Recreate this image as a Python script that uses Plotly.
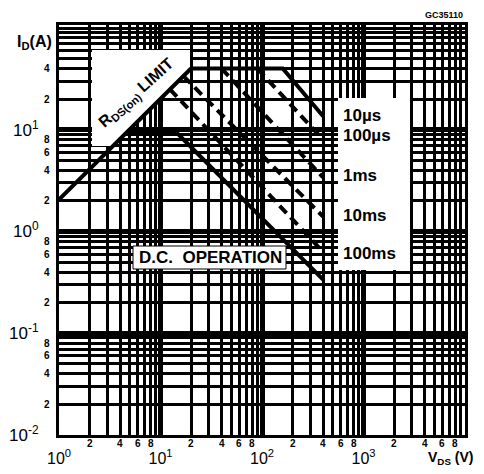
import numpy as np
import plotly.graph_objects as go

# ---- data (V_DS in volts, I_D in amperes) ----
rds_v = [1, 20]
rds_i = [2.06, 40]
us10_v = [20, 160, 400]
us10_i = [40, 40, 13.6]
us100_v = [90, 400]
us100_i = [40, 8.0]
ms1_v = [40, 400]
ms1_i = [40, 3.4]
ms10_v = [16.8, 400]
ms10_i = [33.7, 1.40]
ms100_v = [12.4, 400]
ms100_i = [25.0, 0.63]
dc_v = [4.7, 14.4, 400]
dc_i = [9.4, 9.4, 0.336]

x_decades = [1, 10, 100, 1000]
x_dec_text = ["10<sup>0</sup>", "10<sup>1</sup>", "10<sup>2</sup>", "10<sup>3</sup>"]
y_decades = [0.01, 0.1, 1, 10]
y_dec_text = ["10<sup>-2</sup>", "10<sup>-1</sup>", "10<sup>0</sup>", "10<sup>1</sup>"]
minor_digits = [2, 3, 4, 5, 6, 7, 8, 9]
label_digits = [2, 4, 6, 8]
pulse_labels = ["10µs", "100µs", "1ms", "10ms", "100ms"]

# ---- layout geometry (window pixels; page body has an 8px margin) ----
OFF = 8
W, H = 484, 474
PL, PR, PT, PB = 59, 465, 25, 435
XR = [0, 4]
YR = [-2, 2.03]
FONT = "Liberation Sans"

def fx(px):
    return (px - PL) / (PR - PL)
def fy(py):
    return (PB - py) / (PB - PT)
def V(px):
    return 10 ** (XR[0] + fx(px) * (XR[1] - XR[0]))
def I(py):
    return 10 ** (YR[0] + fy(py) * (YR[1] - YR[0]))
def rds_at(v):
    return 10 ** np.interp(np.log10(v), np.log10(rds_v), np.log10(rds_i))

fig = go.Figure()

# white label backgrounds (drawn above the grid, below the curves)
rx = [V(92), V(190), V(190), V(113), V(92), V(92)]
ry = [I(50), I(50), rds_at(V(190)), rds_at(V(113)), rds_at(V(113)), I(50)]
fig.add_trace(go.Scatter(x=rx, y=ry, mode="lines", fill="toself", fillcolor="white",
                         line=dict(width=0, color="white"), hoverinfo="skip"))
bx = [V(338), V(410), V(410), V(338), V(338)]
by = [I(98), I(98), I(270), I(270), I(98)]
fig.add_trace(go.Scatter(x=bx, y=by, mode="lines", fill="toself", fillcolor="white",
                         line=dict(width=0, color="white"), hoverinfo="skip"))
dx = [V(133), V(286), V(286), V(133), V(133)]
dy = [I(246), I(246), I(269), I(269), I(246)]
fig.add_trace(go.Scatter(x=dx, y=dy, mode="lines", fill="toself", fillcolor="white",
                         line=dict(width=1, color="black"), hoverinfo="skip"))

solid = dict(color="black", width=4)
dashed = dict(color="black", width=4, dash="10px,6px")
fig.add_trace(go.Scatter(x=rds_v, y=rds_i, mode="lines", line=solid))
fig.add_trace(go.Scatter(x=us10_v, y=us10_i, mode="lines", line=solid))
fig.add_trace(go.Scatter(x=us100_v, y=us100_i, mode="lines", line=dashed))
fig.add_trace(go.Scatter(x=ms1_v, y=ms1_i, mode="lines", line=dashed))
fig.add_trace(go.Scatter(x=ms10_v, y=ms10_i, mode="lines", line=dashed))
fig.add_trace(go.Scatter(x=ms100_v, y=ms100_i, mode="lines", line=dashed))
fig.add_trace(go.Scatter(x=dc_v, y=dc_i, mode="lines", line=solid))

ann = []
small = dict(size=10, family=FONT, color="black")
for d in x_decades:
    for k in label_digits:
        ann.append(dict(x=np.log10(d * k), xref="x", y=0, yref="paper", text=f"<b>{k}</b>",
                        xanchor="center", yanchor="top", yshift=-2, showarrow=False,
                        height=10, borderpad=0, font=small))
for d in y_decades:
    for k in label_digits:
        if d == 10 and k in (6, 8):
            continue
        ann.append(dict(x=0, xref="paper", y=np.log10(d * k), yref="y", text=f"<b>{k}</b>",
                        xanchor="right", yanchor="middle", xshift=-7, showarrow=False,
                        font=small))

label_y = [116, 135, 175, 215, 253]
for t, py in zip(pulse_labels, label_y):
    ann.append(dict(x=fx(341), xref="paper", y=fy(py), yref="paper", text=f"<b>{t}</b>",
                    xanchor="left", yanchor="middle", showarrow=False,
                    font=dict(size=17, family=FONT, color="black")))
ann.append(dict(x=fx(210), xref="paper", y=fy(257.5), yref="paper",
                text="<b>D.C.  OPERATION</b>", xanchor="center", yanchor="middle",
                showarrow=False, font=dict(size=17, family=FONT, color="black")))
ann.append(dict(x=fx(136), xref="paper", y=fy(93), yref="paper",
                text="<b>R<sub>DS(on)</sub> LIMIT</b>", textangle=-42,
                xanchor="center", yanchor="middle", showarrow=False,
                font=dict(size=16, family=FONT, color="black")))
ann.append(dict(x=0, xref="paper", y=1, yref="paper", text="<b>I<sub>D</sub>(A)</b>",
                xanchor="right", yanchor="top", xshift=-5, yshift=-6, showarrow=False,
                font=dict(size=16, family=FONT, color="black")))
ann.append(dict(x=1, xref="paper", y=0, yref="paper", text="<b>V<sub>DS</sub> (V)</b>",
                xanchor="right", yanchor="top", xshift=10, yshift=-13, showarrow=False,
                height=16, borderpad=0, valign="top",
                font=dict(size=14, family=FONT, color="black")))
ann.append(dict(x=1, xref="paper", y=1, yref="paper", text="<b>GC35110</b>",
                xanchor="right", yanchor="bottom", yshift=3, showarrow=False,
                font=dict(size=9, family=FONT, color="black")))

axis_common = dict(type="log", showline=True, linewidth=3, linecolor="black",
                   mirror=True, ticks="", showgrid=True, gridcolor="black",
                   gridwidth=5, zeroline=False, tickmode="array", automargin=False,
                   tickfont=dict(size=17, family=FONT, color="black"))

fig.update_layout(
    width=W - 2 * OFF, height=H - 2 * OFF,
    margin=dict(l=PL - OFF, r=W - OFF - PR, t=PT - OFF, b=H - OFF - PB),
    paper_bgcolor="white", plot_bgcolor="white",
    showlegend=False,
    annotations=ann,
    xaxis=dict(axis_common, range=XR, tickvals=x_decades, ticktext=x_dec_text,
               ticklabelstandoff=7, tickfont=dict(size=16, family=FONT, color="black"),
               minor=dict(tickmode="array",
                          tickvals=[d * k for d in x_decades for k in minor_digits],
                          showgrid=True, gridwidth=2.5, gridcolor="black", ticks="")),
    yaxis=dict(axis_common, range=YR, tickvals=y_decades, ticktext=y_dec_text,
               ticklabelstandoff=14,
               minor=dict(tickmode="array",
                          tickvals=[d * k for d in y_decades for k in minor_digits] + [100],
                          showgrid=True, gridwidth=2.5, gridcolor="black", ticks="")),
)

fig.write_html("out.html")
